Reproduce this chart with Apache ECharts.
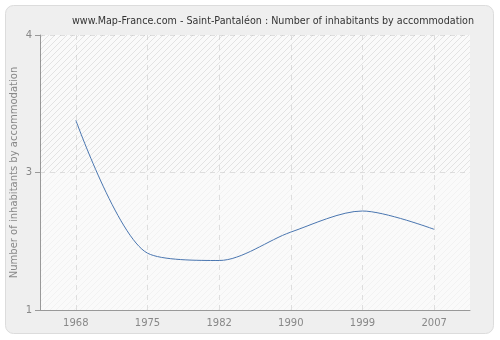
<!DOCTYPE html>
<html>
<head>
<meta charset="utf-8">
<script src="https://cdn.jsdelivr.net/npm/echarts@6/dist/echarts.min.js"></script>
<style>html,body{margin:0;padding:0;background:#fff;}#c{width:500px;height:340px;}</style>
</head>
<body>
<div id="c"></div>
<script>
const titleText = 'www.Map-France.com - Saint-Pantaléon : Number of inhabitants by accommodation';
const yAxisName = 'Number of inhabitants by accommodation';
const years = ['1968', '1975', '1982', '1990', '1999', '2007'];
const values = [3.07, 1.62, 1.54, 1.85, 2.08, 1.88];
const yTicks = [1, 2.5, 4];
const upperBand = [2.5, 4];

function hatch(bg, line) {
  const c = document.createElement('canvas');
  c.width = 6; c.height = 6;
  const g = c.getContext('2d');
  if (bg) { g.fillStyle = bg; g.fillRect(0, 0, 6, 6); }
  g.strokeStyle = line; g.lineWidth = 1;
  g.beginPath();
  g.moveTo(0, 6); g.lineTo(6, 0);
  g.moveTo(-3, 3); g.lineTo(3, -3);
  g.moveTo(3, 9); g.lineTo(9, 3);
  g.stroke();
  return c;
}

const chart = echarts.init(document.getElementById('c'), null, {renderer: 'canvas'});
chart.setOption({
  animation: false,
  backgroundColor: '#ffffff',
  graphic: [{
    type: 'rect', z: -10, silent: true,
    shape: {x: 5.5, y: 5.5, width: 488, height: 328, r: 8},
    style: {fill: '#efefef', stroke: '#dcdcdc', lineWidth: 1}
  }],
  title: {
    text: titleText, left: 67, top: 11,
    textStyle: {fontFamily: 'DejaVu Sans', fontSize: 9.6, fontWeight: 'normal', color: '#333'}
  },
  grid: {
    left: 40, right: 30, top: 35, bottom: 30, show: true, borderWidth: 0,
    outerBoundsMode: 'none', containLabel: false,
    backgroundColor: {image: hatch('#fafafa', '#f2f2f2'), repeat: 'repeat'}
  },
  xAxis: {
    type: 'category', data: years, boundaryGap: true,
    axisLine: {lineStyle: {color: '#999'}},
    axisTick: {alignWithLabel: true, length: 5, lineStyle: {color: '#999'}},
    axisLabel: {color: '#888', fontFamily: 'DejaVu Sans', fontSize: 10, margin: 8},
    splitLine: {show: true, alignWithLabel: true, lineStyle: {color: '#dedede', type: [5, 5]}}
  },
  yAxis: {
    type: 'value', min: 1, max: 4,
    name: yAxisName, nameLocation: 'middle', nameGap: 21, nameRotate: 90, nameMoveOverlap: false,
    nameTextStyle: {color: '#888', fontFamily: 'DejaVu Sans', fontSize: 10},
    axisLine: {show: true, lineStyle: {color: '#999'}},
    axisTick: {show: true, length: 5, customValues: yTicks, lineStyle: {color: '#999'}},
    axisLabel: {color: '#888', fontFamily: 'DejaVu Sans', fontSize: 10, margin: 8, customValues: yTicks,
      formatter: v => String(Math.round(v))},
    splitLine: {show: true, lineStyle: {color: '#dedede', type: [5, 5]}}
  },
  series: [{
    type: 'line', data: values, smooth: 0.3, showSymbol: false,
    lineStyle: {color: '#4a76b0', width: 1},
    markArea: {
      silent: true,
      itemStyle: {color: {image: hatch(null, 'rgba(0,0,0,0.06)'), repeat: 'repeat'}},
      data: [[{yAxis: upperBand[0]}, {yAxis: upperBand[1]}]]
    }
  }]
});
</script>
</body>
</html>
